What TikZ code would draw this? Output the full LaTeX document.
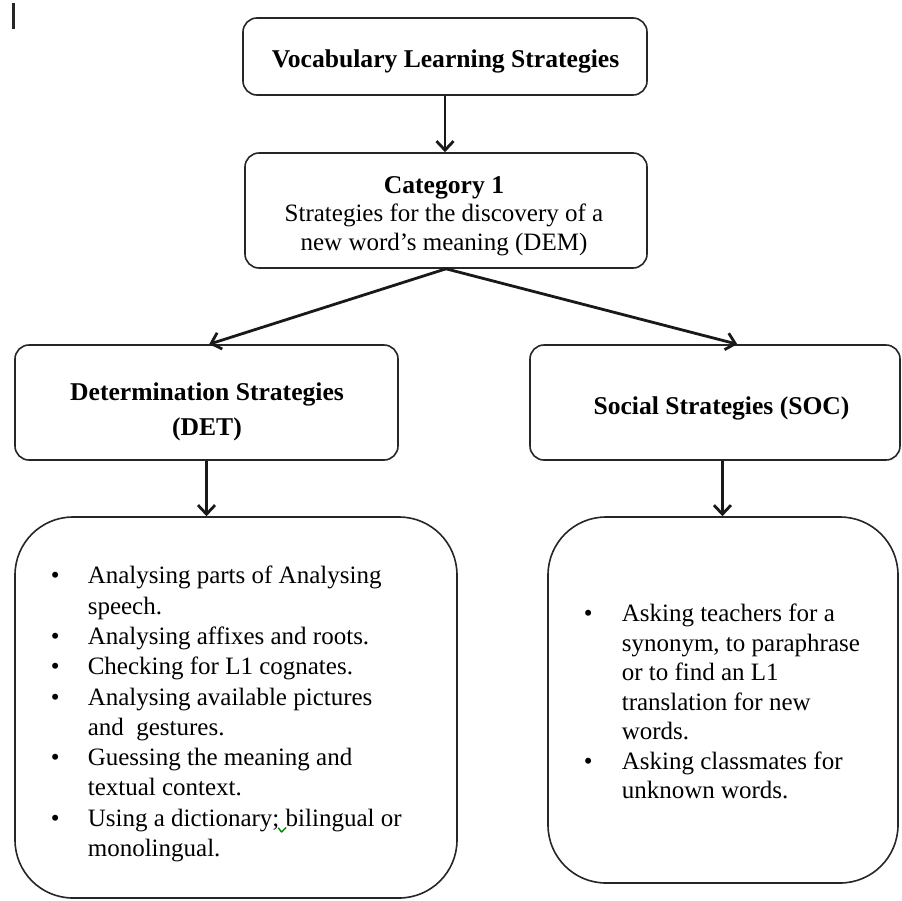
\documentclass[tikz,border=0pt]{standalone}
\usepackage{fontspec}
\setmainfont{Liberation Serif}
\usetikzlibrary{arrows.meta,calc}

% bullet and continuation indents for the strategy lists
\newcommand\itembullet[1]{\makebox[#1][l]{•}}
\newcommand\itemcont[1]{\hspace*{#1}}

\begin{document}
\begin{tikzpicture}[x=1pt,y=-1pt,
  box/.style={draw=black!85, line width=1.6pt, rounded corners=14pt, fill=white, inner sep=0pt},
  listbox/.style={box, rounded corners=58pt},
  title/.style={font=\fontsize{25.6}{35}\selectfont\bfseries, align=center, inner sep=0pt, anchor=north},
  subtitle/.style={font=\fontsize{25}{28.6}\selectfont, align=center, inner sep=0pt, anchor=north},
  listtext/.style={font=\fontsize{25}{30.3}\selectfont, align=left, inner sep=0pt, anchor=north west},
  flow/.style={line width=2.8pt, black!90,
    -{Straight Barb[length=9pt,width=17pt,line width=2.8pt]}},
]
\useasboundingbox (0,0) rectangle (902,900);

% cursor mark in the corner
\fill[black!85] (12.3,3) rectangle (15,29);

% hierarchy boxes
\node[box, minimum width=404, minimum height=77] (top) at (445,56.5) {};
\node[box, minimum width=402, minimum height=115] (cat) at (446,210.5) {};
\node[box, minimum width=383, minimum height=115] (det) at (206.5,402.5) {};
\node[box, minimum width=370, minimum height=115] (soc) at (715,402.5) {};

\node[title] (toptext) at (445.5,50) {Vocabulary Learning Strategies};
\node[subtitle] (cattext) at (444,176)
  {{\fontsize{25.6}{28}\selectfont\bfseries Category 1}\\
   Strategies for the discovery of a\\
   new word’s meaning (DEM)};
\node[title] (dettext) at (207,383) {Determination Strategies\\(DET)};
\node[title] (soctext) at (721.5,397) {Social Strategies (SOC)};

% strategy lists
\node[listbox, minimum width=442, minimum height=381] (dlist) at (236,707.5) {};
\node[listbox, minimum width=350, minimum height=366] (slist) at (723,700) {};

\node[listtext] (dtext) at (50.6,566) {%
  \itembullet{37pt}Analysing parts of Analysing\\
  \itemcont{37pt}speech.\\
  \itembullet{37pt}Analysing affixes and roots.\\
  \itembullet{37pt}Checking for L1 cognates.\\
  \itembullet{37pt}Analysing available pictures\\
  \itemcont{37pt}and\enspace gestures.\\
  \itembullet{37pt}Guessing the meaning and\\
  \itemcont{37pt}textual context.\\
  \itembullet{37pt}Using a dictionary; bilingual or\\
  \itemcont{37pt}monolingual.};

\node[listtext, font=\fontsize{25}{29.5}\selectfont] (stext) at (583.6,604) {%
  \itembullet{38pt}Asking teachers for a\\
  \itemcont{38pt}synonym, to paraphrase\\
  \itemcont{38pt}or to find an L1\\
  \itemcont{38pt}translation for new\\
  \itemcont{38pt}words.\\
  \itembullet{38pt}Asking classmates for\\
  \itemcont{38pt}unknown words.};

% spell-check tick under the semicolon
\draw[green!55!black, line width=1.4pt, line cap=round, line join=round]
  (278.5,828) -- (281.5,832) -- (286,827.5);

% connectors
\draw[flow] (top.south) -- (top.south |- cat.north);
\draw[flow] (cat.south) -- ($(det.north west)!0.507!(det.north east)$);
\draw[flow] (cat.south) -- ($(soc.north west)!0.56!(soc.north east)$);
\coordinate (detout) at ($(det.south west)!0.5!(det.south east)$);
\draw[flow] (detout) -- (detout |- dlist.north);
\coordinate (socout) at ($(soc.south west)!0.52!(soc.south east)$);
\draw[flow] (socout) -- (socout |- slist.north);
\end{tikzpicture}
\end{document}
